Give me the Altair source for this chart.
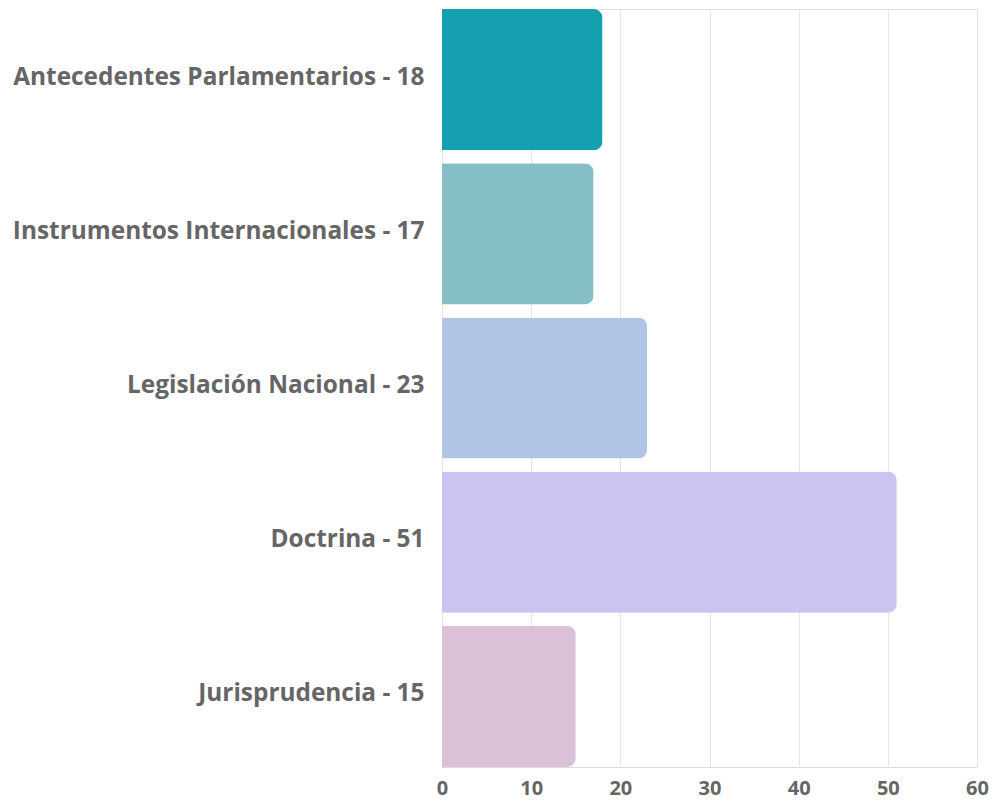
import altair as alt
import pandas as pd

categories = ["Antecedentes Parlamentarios - 18", "Instrumentos Internacionales - 17",
              "Legislación Nacional - 23", "Doctrina - 51", "Jurisprudencia - 15"]
values = [18, 17, 23, 51, 15]
colors = ["#14a0ae", "#86bec6", "#b0c5e6", "#cbc4f0", "#dac1d8"]

df = pd.DataFrame({"cat": categories, "val": values})

chart = alt.Chart(df).mark_bar(cornerRadiusEnd=9).encode(
    y=alt.Y("cat:N", sort=categories, title=None,
            scale=alt.Scale(paddingInner=0.084, paddingOuter=0),
            axis=alt.Axis(labelFont="Open Sans", labelFontWeight="bold", labelFontSize=24.4,
                          labelColor="#666666", labelPadding=18, ticks=False, domain=False,
                          labelLimit=600, labelOffset=-2)),
    x=alt.X("val:Q", title=None, scale=alt.Scale(domain=[0, 60], nice=False),
            axis=alt.Axis(values=[0, 10, 20, 30, 40, 50, 60], labelFont="Open Sans",
                          labelFontWeight="bold", labelFontSize=20, labelColor="#666666",
                          ticks=False, domain=False, gridColor="#e6e6e6", labelPadding=11,
                          labelFlush=False)),
    color=alt.Color("cat:N", sort=categories, scale=alt.Scale(domain=categories, range=colors),
                    legend=None),
).properties(
    width=535, height=758,
    autosize=alt.AutoSizeParams(type="none"),
    padding={"left": 434, "top": 1, "right": 16, "bottom": 40},
).configure_view(stroke=None).configure(background="white")

chart.save("out.html", embed_options={"renderer": "svg", "actions": False})
